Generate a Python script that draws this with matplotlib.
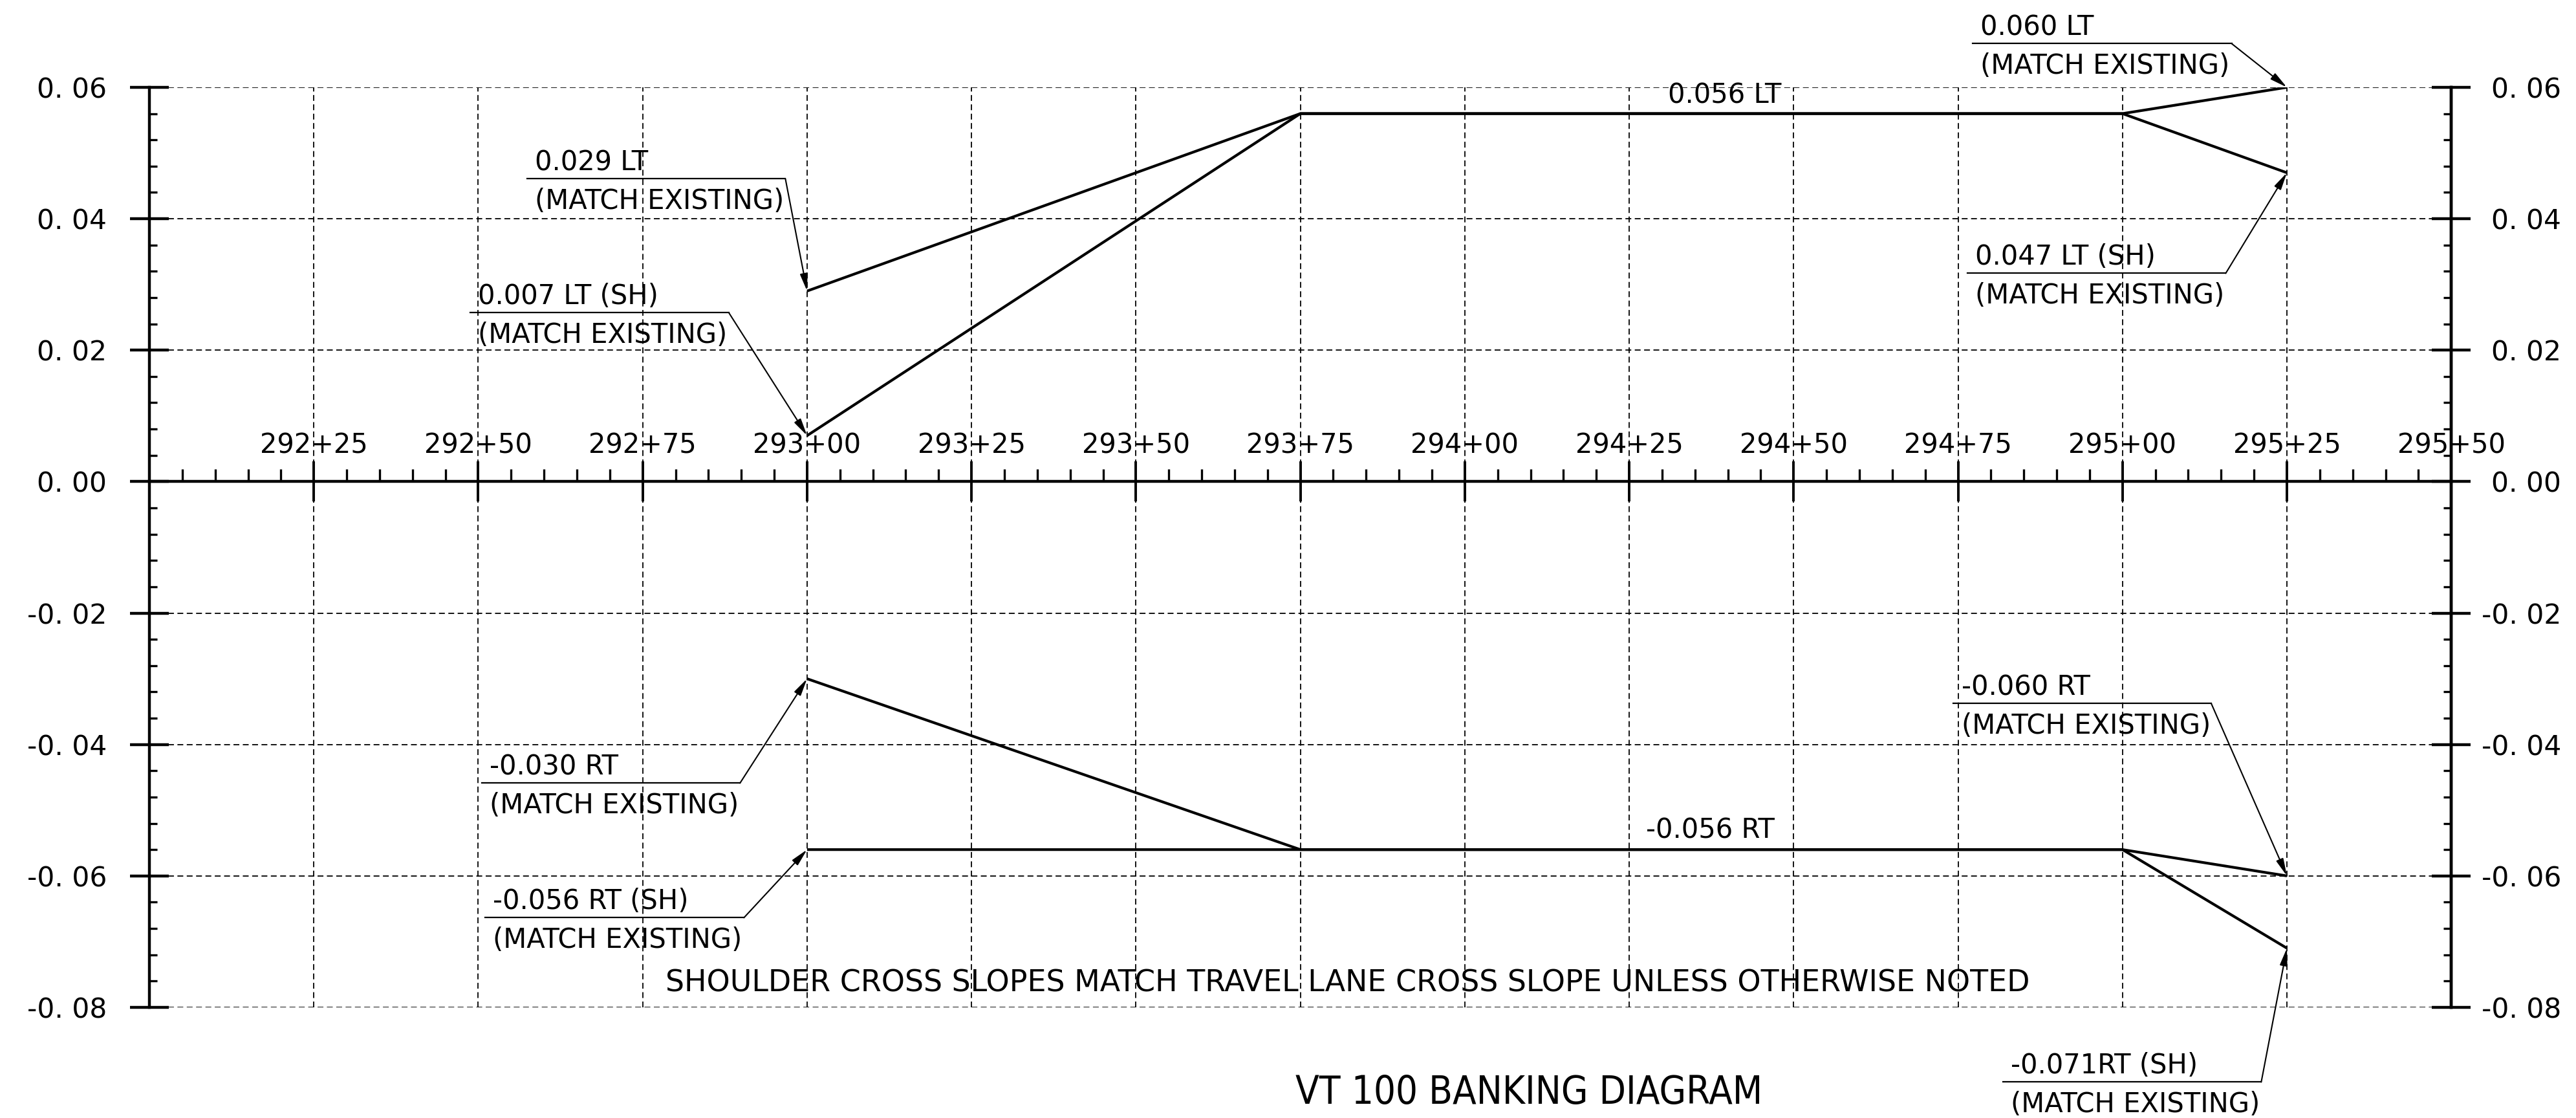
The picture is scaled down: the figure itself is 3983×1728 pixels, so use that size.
import matplotlib
matplotlib.use('Agg')
import matplotlib.pyplot as plt
from matplotlib.ticker import MultipleLocator

plt.rcParams['font.family'] = ['DejaVu Sans']

# ---------------- data ----------------
stations = [29300, 29375, 29500, 29525]
lt_travel = [0.029, 0.056, 0.056, 0.060]
lt_shoulder = [0.007, 0.056, 0.056, 0.047]
rt_travel = [-0.030, -0.056, -0.056, -0.060]
rt_shoulder = [-0.056, -0.056, -0.056, -0.071]

x_major_ticks = list(range(29200, 29551, 25))
x_tick_labels = ['' if v == 29200 else f"{v // 100}+{v % 100:02d}" for v in x_major_ticks]
y_major_ticks = [0.06, 0.04, 0.02, 0.00, -0.02, -0.04, -0.06, -0.08]
y_tick_labels = ['0. 06', '0. 04', '0. 02', '0. 00', '-0. 02', '-0. 04', '-0. 06', '-0. 08']

callout_values = ['0.029 LT', '0.007 LT (SH)', '-0.030 RT', '-0.056 RT (SH)',
                  '0.060 LT', '0.047 LT (SH)', '-0.060 RT', '-0.071RT (SH)']
callout_note = '(MATCH EXISTING)'
callout_sta = [29300, 29300, 29300, 29300, 29525, 29525, 29525, 29525]
callout_val = [0.029, 0.007, -0.030, -0.056, 0.060, 0.047, -0.060, -0.071]

inline_labels = ['0.056 LT', '-0.056 RT']
note_text = 'SHOULDER CROSS SLOPES MATCH TRAVEL LANE CROSS SLOPE UNLESS OTHERWISE NOTED'
title_text = 'VT 100 BANKING DIAGRAM'

# ---------------- layout ----------------
# underline (x0, x1, y) for each callout
callout_underline = [
    (29257.4, 29296.7, 0.04608),
    (29248.8, 29288.1, 0.02570),
    (29250.5, 29289.8, -0.04588),
    (29251.0, 29290.4, -0.06636),
    (29477.2, 29516.6, 0.06665),
    (29476.4, 29515.7, 0.03170),
    (29474.3, 29513.5, -0.03377),
    (29481.8, 29521.1, -0.09137),
]
inline_pos = [(29439.5, 0.056, 11.5), (29437.3, -0.056, 13.0)]

FS = 30
fig = plt.figure(figsize=(39.83, 17.28), dpi=100)
fig.patch.set_facecolor('white')
ax = fig.add_axes([0.0580, 0.0990, 0.8936, 0.8229])
ax.set_xlim(29200, 29550)
ax.set_ylim(-0.08, 0.06)

# spines
for s in ['left', 'right']:
    ax.spines[s].set_linewidth(3.2)
ax.spines['top'].set_position(('data', 0))
ax.spines['top'].set_linewidth(3.2)
ax.spines['bottom'].set_visible(False)

# x axis (along y = 0, labels above)
ax.xaxis.set_ticks_position('top')
ax.set_xticks(x_major_ticks, labels=x_tick_labels)
ax.xaxis.set_minor_locator(MultipleLocator(5))
ax.tick_params(axis='x', which='major', direction='inout', length=45, width=2.8,
               pad=2.5, labelsize=30, top=True, bottom=False,
               labeltop=True, labelbottom=False)
ax.tick_params(axis='x', which='minor', direction='out', length=13.7, width=2.4,
               top=True, bottom=False)

# left y axis
ax.set_yticks(y_major_ticks, labels=y_tick_labels)
ax.yaxis.set_minor_locator(MultipleLocator(0.004))
ax.tick_params(axis='y', which='major', direction='inout', length=43, width=3.2,
               pad=26, labelsize=30.5, left=True, right=False)
ax.tick_params(axis='y', which='minor', direction='in', length=8.6, width=2.4,
               left=True, right=False)

# right y axis
ax2 = ax.twinx()
ax2.set_ylim(-0.08, 0.06)
for s in ['left', 'top', 'bottom']:
    ax2.spines[s].set_visible(False)
ax2.spines['right'].set_linewidth(3.2)
ax2.set_yticks(y_major_ticks, labels=y_tick_labels, ha='right')
ax2.yaxis.set_minor_locator(MultipleLocator(0.004))
ax2.tick_params(axis='y', which='major', direction='inout', length=43, width=3.2,
                pad=101, labelsize=30.5)
ax2.tick_params(axis='y', which='minor', direction='in', length=8.6, width=2.4)

# grid
ax.grid(True, which='major', color='k', lw=1.3, linestyle=(0, (5, 3)))

# data lines
for series in (lt_travel, lt_shoulder, rt_travel, rt_shoulder):
    ax.plot(stations, series, color='k', lw=3.0, solid_capstyle='butt', zorder=3)

# callouts
for i, (x0, x1, yu) in enumerate(callout_underline):
    ax.plot([x0, x1], [yu, yu], color='k', lw=1.6, clip_on=False, zorder=3)
    ax.annotate('', xy=(callout_sta[i], callout_val[i]), xytext=(x1, yu),
                arrowprops=dict(arrowstyle='-|>,head_length=16,head_width=3.5',
                                mutation_scale=1, lw=1.5, color='k',
                                shrinkA=0, shrinkB=0),
                annotation_clip=False, zorder=3)
    ax.annotate(callout_values[i], xy=(x0 + 1.2, yu), xytext=(0, 9.5),
                textcoords='offset points', ha='left', va='baseline',
                fontsize=FS, annotation_clip=False)
    ax.annotate(callout_note, xy=(x0 + 1.2, yu), xytext=(0, -10),
                textcoords='offset points', ha='left', va='top',
                fontsize=FS, annotation_clip=False)

# inline labels
for lab, (xs, ys, off) in zip(inline_labels, inline_pos):
    ax.annotate(lab, xy=(xs, ys), xytext=(0, off), textcoords='offset points',
                ha='center', va='baseline', fontsize=FS)

# note and title
ax.text(29382.2, -0.07758, note_text, ha='center', va='baseline', fontsize=33)
fig.text(0.5935, 0.0127, title_text, ha='center', va='baseline', fontsize=43,
         fontstretch='condensed')

fig.savefig('out.png', dpi=100, facecolor='white')
